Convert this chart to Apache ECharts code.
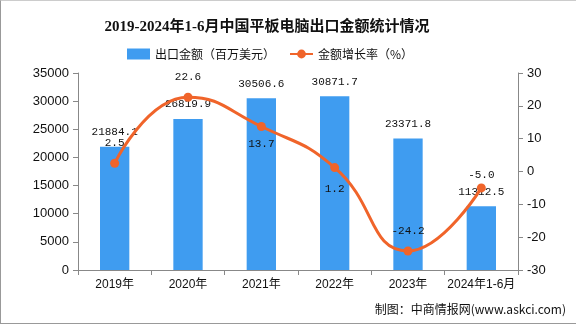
<!DOCTYPE html>
<html><head><meta charset="utf-8">
<script src="https://cdn.jsdelivr.net/npm/echarts@6/dist/echarts.min.js"></script>
<style>
html,body{margin:0;padding:0;background:#fff;}
#c{width:576px;height:324px;box-sizing:border-box;border-left:1px solid #999;border-top:1px solid #ccc;border-bottom:1px solid #999;}
</style></head>
<body><div id="c"></div>
<script>
var categories = ['2019年','2020年','2021年','2022年','2023年','2024年1-6月'];
var exportValue = [21884.1, 26819.9, 30506.6, 30871.7, 23371.8, 11312.5];
var growthRate = [2.5, 22.6, 13.7, 1.2, -24.2, -5.0];
var rateLabelPlacement = ['top','top','bottom','bottom','top','top'];
var rateLabelGap = [10, 10, 8, 12, 10, 3];

var chart = echarts.init(document.getElementById('c'));
var numFont = '"Liberation Mono","DejaVu Sans Mono",monospace';
var sansFont = '"Liberation Sans","Noto Sans CJK SC",sans-serif';
chart.setOption({
  animation:false,
  backgroundColor:'#fff',
  title:{
    text:'2019-2024年1-6月中国平板电脑出口金额统计情况',
    left:261, top:14, textAlign:'center',
    textStyle:{fontSize:15,fontWeight:'bold',color:'#111',fontFamily:'"Liberation Serif","Noto Sans CJK SC",serif'}
  },
  legend:{
    top:42, left:121, itemGap:14,
    itemWidth:23, itemHeight:11,
    textStyle:{fontSize:12,color:'#111',fontFamily:'"Noto Sans CJK SC",sans-serif'},
    data:[{name:'出口金额（百万美元）',icon:'rect'},{name:'金额增长率（%）'}]
  },
  grid:{left:77,right:58,top:72,bottom:53},
  xAxis:{
    type:'category', data:categories,
    axisLine:{lineStyle:{color:'#888'}},
    axisTick:{show:true,length:5,lineStyle:{color:'#888'}},
    axisLabel:{color:'#111',fontSize:12,margin:9,interval:0,fontFamily:sansFont}
  },
  yAxis:[{
    type:'value', min:0, max:35000, interval:5000,
    axisLine:{show:true,lineStyle:{color:'#888'}},
    axisTick:{show:true,length:5,lineStyle:{color:'#888'}},
    splitLine:{show:false},
    axisLabel:{color:'#111',fontSize:13,margin:9,fontFamily:sansFont,formatter:function(v){return String(v);}}
  },{
    type:'value', min:-30, max:30, interval:10,
    axisLine:{show:true,lineStyle:{color:'#888'}},
    axisTick:{show:true,length:5,lineStyle:{color:'#888'}},
    splitLine:{show:false},
    axisLabel:{color:'#111',fontSize:13,margin:9,fontFamily:sansFont,formatter:function(v){return String(v);}}
  }],
  series:[{
    name:'出口金额（百万美元）', type:'bar', data:exportValue, barWidth:'40%',
    itemStyle:{color:'#3f9cf0'},
    label:{show:true,position:'top',distance:9,color:'#111',fontSize:11,fontFamily:numFont,
      formatter:function(p){return p.value.toFixed(1);}}
  },{
    name:'金额增长率（%）', type:'line', yAxisIndex:1, smooth:true,
    data:growthRate.map(function(v,i){return {value:v,label:{position:rateLabelPlacement[i],distance:rateLabelGap[i]}};}),
    symbol:'circle', symbolSize:9,
    lineStyle:{color:'#f0642a',width:3},
    itemStyle:{color:'#f0642a'},
    label:{show:true,distance:10,color:'#111',fontSize:11,fontFamily:numFont,
      formatter:function(p){return p.value.toFixed(1);}}
  }],
  graphic:[{
    type:'text', right:10, top:302,
    style:{text:'制图：中商情报网(www.askci.com)',fill:'#111',fontSize:12,fontFamily:'"Noto Sans CJK SC",sans-serif'}
  }]
});
</script></body></html>
